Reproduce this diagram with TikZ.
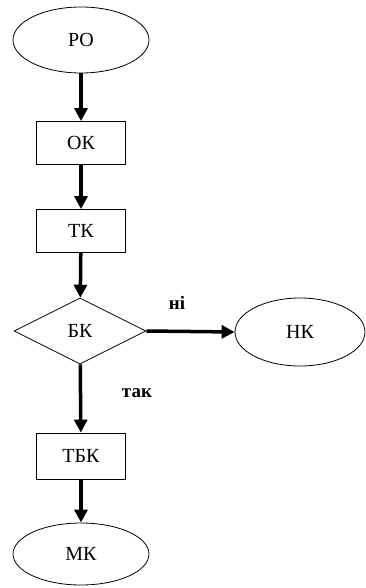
\documentclass[tikz,border=0pt]{standalone}
\usepackage{fontspec}
\setmainfont{Liberation Serif}
\usetikzlibrary{shapes.geometric,arrows.meta}
\begin{document}
\begin{tikzpicture}[x=1pt,y=1pt,
  every node/.style={font=\fontsize{20}{22}\selectfont, inner sep=0pt},
  oval/.style={draw, line width=0.8pt, ellipse, minimum width=136pt, minimum height=66pt},
  box/.style={draw, line width=0.8pt, rectangle, minimum width=89pt, minimum height=43pt},
  decision/.style={draw, line width=0.8pt, diamond, minimum width=132pt, minimum height=66pt},
  flow/.style={line width=3.5pt, -{Triangle[length=13pt,width=13pt]}},
  lbl/.style={font=\fontsize{19}{21}\selectfont\bfseries}]
\useasboundingbox (0,0) rectangle (365,-588);
\node[oval] (po) at (81,-40) {РО};
\node[box] (ok) at (81,-143) {ОК};
\node[box] (tk) at (81,-231) {ТК};
\node[decision] (bk) at (80,-331) {БК};
\node[oval, minimum width=130pt, minimum height=68pt] (nk) at (300,-332) {НК};
\node[box, minimum height=46pt] (tbk) at (81,-456) {ТБК};
\node[oval, minimum height=62pt] (mk) at (81,-554) {МК};
\draw[flow] (po) -- (ok);
\draw[flow] (ok) -- (tk);
\draw[flow] (tk) -- (bk);
\draw[flow] (bk) -- (tbk);
\draw[flow] (tbk) -- (mk);
\draw[flow] (bk.east) -- (nk.west);
\node[lbl] (ni) at (177,-303) {ні};
\node[lbl] (tak) at (137,-393) {так};
\end{tikzpicture}
\end{document}
